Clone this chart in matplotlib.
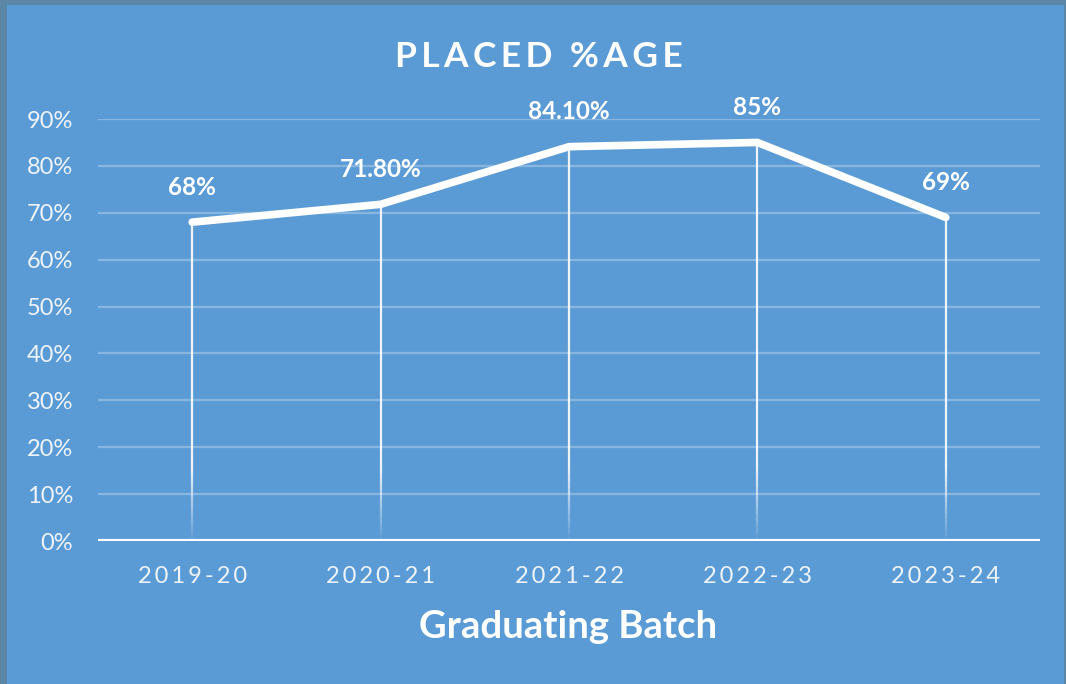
import numpy as np
import matplotlib
matplotlib.use("Agg")
import matplotlib.pyplot as plt
from matplotlib.patches import Rectangle
from matplotlib.collections import LineCollection

# data
batches = ["2019-20", "2020-21", "2021-22", "2022-23", "2023-24"]
placed = [68, 71.8, 84.1, 85, 69]
labels = ["68%", "71.80%", "84.10%", "85%", "69%"]
yticks = [0, 10, 20, 30, 40, 50, 60, 70, 80, 90]

BG = "#5b9bd5"
BORDER = "#5b86a5"
W, H = 1066, 684

plt.rcParams["font.family"] = ["Lato", "DejaVu Sans"]

fig = plt.figure(figsize=(W / 100, H / 100), dpi=100)
fig.patch.set_facecolor(BORDER)
fig.patches.append(Rectangle((7 / W, 0), (W - 9) / W, (H - 5) / H,
                             transform=fig.transFigure, facecolor=BG,
                             edgecolor="none", zorder=-1))

ax = fig.add_axes([98 / W, 1 - 541 / H, (1040 - 98) / W, (541 - 119) / H])
ax.set_facecolor("none")
x = np.arange(len(batches))
ax.set_xlim(-0.5, len(batches) - 0.5)
ax.set_ylim(0, 90)

# grid
for t in yticks[1:]:
    ax.axhline(t, color="white", alpha=0.28, lw=1.6, zorder=1)
ax.axhline(0, color="white", lw=3, zorder=3)

# drop lines, fading out at the bottom
for xi, v in zip(x, placed):
    ys = np.linspace(0, v, 60)
    segs = [[(xi, ys[i]), (xi, ys[i + 1])] for i in range(len(ys) - 1)]
    alphas = np.clip(ys[:-1] / 15.0, 0, 1) * 0.85 + 0.05
    cols = [(1, 1, 1, a) for a in alphas]
    ax.add_collection(LineCollection(segs, colors=cols, linewidths=1.6, zorder=2))

ax.plot(x, placed, color="white", lw=5.5, solid_capstyle="round",
        solid_joinstyle="round", zorder=4)

for xi, v, lab in zip(x, placed, labels):
    ax.annotate(lab, (xi, v), xytext=(0, 25), textcoords="offset points",
                ha="center", va="center", color="white", fontsize=17.5,
                fontweight="bold")

ax.set_yticks(yticks)
ax.set_yticklabels([f"{t}%" for t in yticks])
ax.set_xticks(x)
ax.set_xticklabels(["\u2009".join(b) for b in batches])
ax.tick_params(axis="y", length=0, pad=18, labelsize=17, labelcolor="#eef4fb")
ax.tick_params(axis="x", length=0, pad=18, labelsize=17, labelcolor="#eef4fb")
for s in ax.spines.values():
    s.set_visible(False)

fig.text(539 / W, 1 - 57 / H, "\u2009".join("PLACED %AGE"), ha="center",
         va="center", color="white", fontsize=25.5, fontweight="bold")
fig.text(568 / W, 1 - 627 / H, "Graduating Batch", ha="center", va="center",
         color="white", fontsize=27.5, fontweight="bold")

fig.savefig("out.png", dpi=100, facecolor=fig.get_facecolor())
